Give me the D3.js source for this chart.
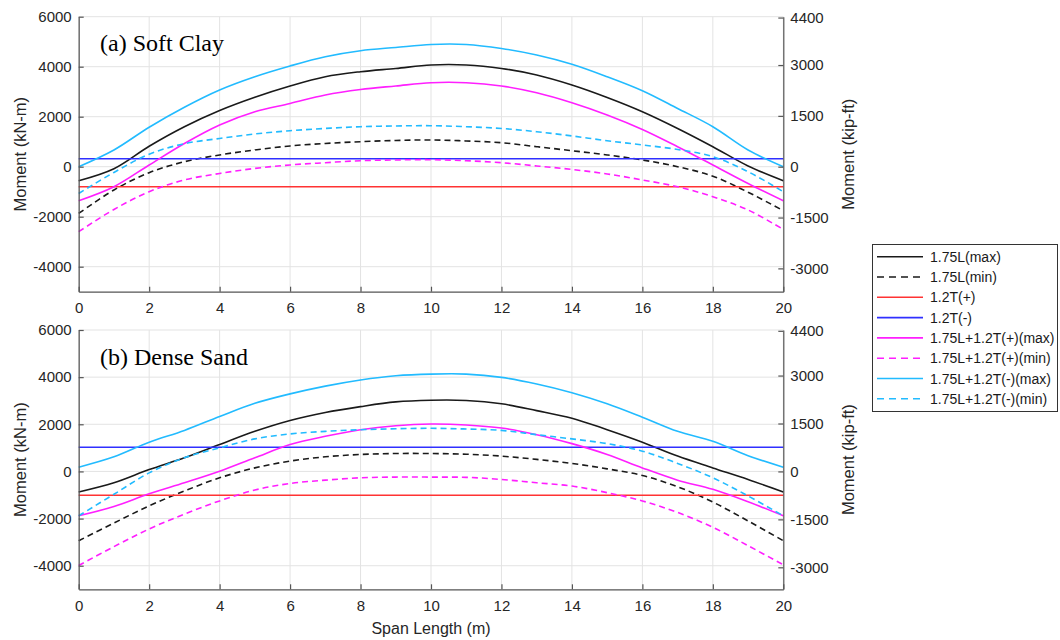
<!DOCTYPE html>
<html>
<head>
<meta charset="utf-8">
<script src="https://cdn.jsdelivr.net/npm/d3@7"></script>
<style>
  body { margin: 0; background: #fff; }
  svg { display: block; font-family: "Liberation Sans", Arial, sans-serif; }
</style>
</head>
<body>
<svg id="chart" width="1060" height="640"></svg>
<script>
// span positions (m)
const spanX = [0, 1, 2, 3, 4, 5, 6, 7, 8, 9, 10, 11, 12, 13, 14, 15, 16, 17, 18, 19, 20];

// (a) Soft Clay, kN-m
const clayLmax = [-560, -80, 820, 1600, 2250, 2780, 3230, 3600, 3800, 3930, 4070, 4070, 3930, 3670, 3270, 2770, 2200, 1530, 800, 30, -560];
const clayLmin = [-1870, -930, -240, 200, 470, 670, 830, 930, 1000, 1050, 1070, 1030, 960, 800, 640, 470, 270, 0, -380, -1020, -1760];
const clayTpos = -800;
const clayTneg = 320;
const clayPmax = [-1360, -800, 70, 930, 1670, 2200, 2530, 2870, 3090, 3230, 3360, 3360, 3230, 2960, 2560, 2070, 1490, 800, 70, -670, -1360];
const clayPmin = [-2600, -1710, -1000, -530, -270, -70, 70, 160, 240, 270, 280, 240, 160, 30, -110, -290, -530, -800, -1200, -1730, -2510];
const clayNmax = [0, 670, 1580, 2380, 3070, 3600, 4030, 4400, 4640, 4770, 4890, 4890, 4730, 4470, 4100, 3600, 3040, 2330, 1600, 670, 0];
const clayNmin = [-1070, -230, 500, 920, 1130, 1310, 1440, 1530, 1600, 1630, 1640, 1600, 1530, 1400, 1230, 1040, 870, 690, 400, -200, -1000];

// (b) Dense Sand, kN-m
const sandLmax = [-870, -480, 80, 580, 1140, 1700, 2160, 2500, 2750, 2950, 3020, 3010, 2870, 2580, 2260, 1770, 1240, 650, 150, -340, -870];
const sandLmin = [-2940, -2190, -1460, -830, -270, 150, 440, 620, 720, 760, 760, 730, 650, 510, 340, 110, -170, -650, -1300, -2100, -2940];
const sandTpos = -1010;
const sandTneg = 1025;
const sandPmax = [-1880, -1490, -950, -480, 10, 580, 1140, 1490, 1770, 1940, 2010, 1970, 1840, 1560, 1180, 720, 150, -370, -760, -1290, -1880];
const sandPmin = [-3990, -3190, -2440, -1810, -1250, -790, -510, -370, -270, -240, -240, -250, -340, -480, -620, -900, -1250, -1740, -2370, -3150, -3960];
const sandNmax = [180, 620, 1240, 1740, 2330, 2890, 3290, 3620, 3880, 4060, 4130, 4130, 3990, 3710, 3340, 2870, 2300, 1700, 1280, 670, 180];
const sandNmin = [-1880, -970, -60, 580, 1000, 1380, 1590, 1700, 1770, 1810, 1830, 1800, 1740, 1560, 1380, 1180, 860, 340, -270, -1040, -1880];

const seriesNames = ["1.75L(max)", "1.75L(min)", "1.2T(+)", "1.2T(-)",
  "1.75L+1.2T(+)(max)", "1.75L+1.2T(+)(min)", "1.75L+1.2T(-)(max)", "1.75L+1.2T(-)(min)"];
const seriesColors = ["#1a1a1a", "#1a1a1a", "#ff3333", "#3030ff", "#ff1fff", "#ff1fff", "#22bbff", "#22bbff"];
const seriesDashed = [false, true, false, false, false, true, false, true];

const leftTicks = [-4000, -2000, 0, 2000, 4000, 6000];
const rightTicks = [-3000, -1500, 0, 1500, 3000, 4400];
const xTicks = [0, 2, 4, 6, 8, 10, 12, 14, 16, 18, 20];
const kipFt = 1.3558; // kN-m per kip-ft

const svg = d3.select("#chart");
const x = d3.scaleLinear().domain([0, 20]).range([78.7, 783.3]);
const plain = d => String(d);

const panels = [
  { title: "(a) Soft Clay", top: 16.7, bottom: 291.7,
    series: [clayLmax, clayLmin, spanX.map(() => clayTpos), spanX.map(() => clayTneg), clayPmax, clayPmin, clayNmax, clayNmin] },
  { title: "(b) Dense Sand", top: 330, bottom: 589.3,
    series: [sandLmax, sandLmin, spanX.map(() => sandTpos), spanX.map(() => sandTneg), sandPmax, sandPmin, sandNmax, sandNmin] }
];

let drawPanel = (p) => {
  const y = d3.scaleLinear().domain([-5000, 6000]).range([p.bottom, p.top]);
  const yR = d3.scaleLinear().domain([-5000 / kipFt, 6000 / kipFt]).range([p.bottom, p.top]);
  const g = svg.append("g");

  // grid
  g.selectAll(".gx").data(xTicks).enter().append("line")
    .attr("x1", d => x(d)).attr("x2", d => x(d))
    .attr("y1", p.top).attr("y2", p.bottom)
    .style("stroke", "#e3e3e3").style("stroke-width", 1);
  g.selectAll(".gy").data(leftTicks).enter().append("line")
    .attr("x1", x(0)).attr("x2", x(20))
    .attr("y1", d => y(d)).attr("y2", d => y(d))
    .style("stroke", "#e3e3e3").style("stroke-width", 1);

  // lines
  const line = d3.line().x((d, i) => x(spanX[i])).y(d => y(d)).curve(d3.curveCatmullRom);
  p.series.forEach((vals, i) => {
    g.append("path")
      .attr("d", line(vals))
      .style("fill", "none")
      .style("stroke", seriesColors[i])
      .style("stroke-width", 1.6)
      .style("stroke-dasharray", seriesDashed[i] ? "6,4" : null);
  });

  // axes
  const axL = g.append("g").attr("transform", `translate(${x(0)},0)`)
    .call(d3.axisLeft(y).tickValues(leftTicks).tickFormat(plain).tickSizeInner(-5).tickSizeOuter(0).tickPadding(7));
  const axR = g.append("g").attr("transform", `translate(${x(20)},0)`)
    .call(d3.axisRight(yR).tickValues(rightTicks).tickFormat(plain).tickSizeInner(-5).tickSizeOuter(0).tickPadding(7));
  const axB = g.append("g").attr("transform", `translate(0,${p.bottom})`)
    .call(d3.axisBottom(x).tickValues(xTicks).tickFormat(plain).tickSizeInner(-5).tickSizeOuter(0).tickPadding(11));
  [axL, axR, axB].forEach(a => {
    a.selectAll("path, line").style("stroke", "#555").style("stroke-width", 1.2);
    a.selectAll("text").style("font-size", "15px").style("fill", "#262626")
      .style("font-family", '"Liberation Sans", Arial, sans-serif');
  });

  // panel title
  g.append("text").attr("x", 100).attr("y", p.top + 34.5)
    .text(p.title)
    .style("font-family", '"Liberation Serif", "Times New Roman", serif')
    .style("font-size", "24px").style("fill", "#000");

  // axis labels
  const cy = (p.top + p.bottom) / 2;
  g.append("text").attr("transform", `translate(20,${cy}) rotate(-90)`)
    .attr("text-anchor", "middle").attr("dominant-baseline", "central")
    .text("Moment (kN-m)").style("font-size", "16.5px").style("fill", "#262626");
  g.append("text").attr("transform", `translate(848,${cy}) rotate(-90)`)
    .attr("text-anchor", "middle").attr("dominant-baseline", "central")
    .text("Moment (kip-ft)").style("font-size", "16.5px").style("fill", "#262626");
};

panels.forEach(drawPanel);

svg.append("text").attr("x", (x(0) + x(20)) / 2).attr("y", 628)
  .attr("text-anchor", "middle").attr("dominant-baseline", "central")
  .text("Span Length (m)").style("font-size", "16px").style("fill", "#262626");

// legend
const legend = svg.append("g");
legend.append("rect").attr("x", 872.5).attr("y", 244.5).attr("width", 185).attr("height", 167)
  .style("fill", "#fff").style("stroke", "#333").style("stroke-width", 1);
seriesNames.forEach((name, i) => {
  const ly = 256.7 + i * 20.3;
  legend.append("line").attr("x1", 877).attr("x2", 923).attr("y1", ly).attr("y2", ly)
    .style("stroke", seriesColors[i]).style("stroke-width", 1.6)
    .style("stroke-dasharray", seriesDashed[i] ? "7,5" : null);
  legend.append("text").attr("x", 930).attr("y", ly).attr("dominant-baseline", "central")
    .text(name).style("font-size", "14px").style("fill", "#1a1a1a");
});
</script>
</body>
</html>
